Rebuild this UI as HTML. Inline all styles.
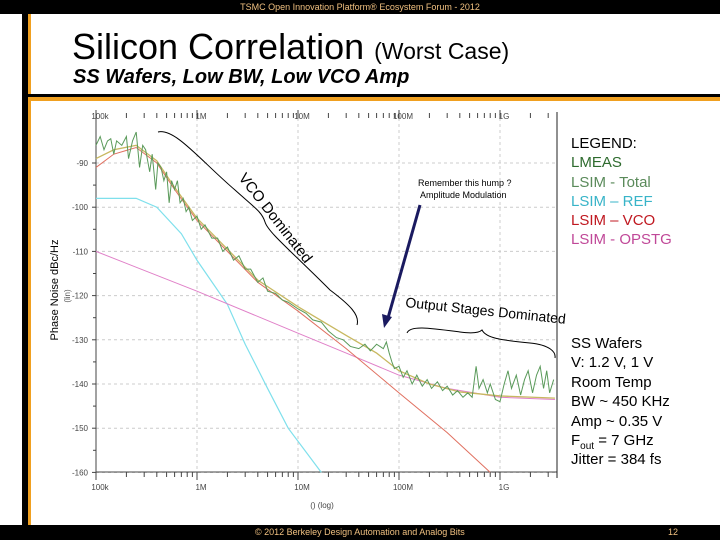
<!DOCTYPE html>
<html><head><meta charset="utf-8"><style>
body{margin:0;width:720px;height:540px;overflow:hidden;background:#fff;font-family:"Liberation Sans",sans-serif;position:relative}
.abs{position:absolute}
</style></head><body>
<div class="abs" style="left:0;top:0;width:720px;height:14px;background:#000;color:#f0c080;font-size:9px;text-align:center;line-height:14px">TSMC Open Innovation Platform® Ecosystem Forum - 2012</div>
<div class="abs" style="left:22px;top:14px;width:6px;height:526px;background:#000"></div>
<div class="abs" style="left:28px;top:14px;width:3px;height:513px;background:#f0a020"></div>
<div class="abs" style="left:28px;top:94px;width:692px;height:3px;background:#000"></div>
<div class="abs" style="left:28px;top:97px;width:692px;height:4px;background:#f0a020"></div>
<div class="abs" style="left:72px;top:26px;font-size:36px;white-space:nowrap">Silicon Correlation <span style="font-size:23px">(Worst Case)</span></div>
<div class="abs" style="left:73px;top:66px;font-size:20px;font-weight:bold;font-style:italic">SS Wafers, Low BW, Low VCO Amp</div>
<div class="abs" style="left:0;top:525px;width:720px;height:15px;background:#000;color:#f0c080;font-size:9px;line-height:15px"><span style="position:absolute;left:255px">© 2012 Berkeley Design Automation and Analog Bits</span><span style="position:absolute;left:668px">12</span></div>

<svg class="abs" style="left:0;top:0" width="720" height="540">
<g id="grid"></g><g id="axes"></g><g id="series"></g>
<g fill="none" stroke="#000" stroke-width="1">
<path d="M158,132 C175,128 200,160 235,190 C255,208 262,212 265,222 C268,232 290,250 330,290 C350,305 360,315 357,325"/>
<path d="M407,333 C410,325 430,328 460,332 C475,334 480,332 482,330 C486,338 500,340 530,343 C550,345 556,352 555,358"/>
<line x1="420" y1="205" x2="388" y2="318" stroke="#1a1a60" stroke-width="3"/>
<polygon points="384,328 382,314 392,317" fill="#1a1a60" stroke="none"/>
</g>
<text transform="translate(238,178) rotate(52)" font-size="15" font-family="Liberation Sans">VCO Dominated</text>
<text transform="translate(405,307) rotate(6)" font-size="14" font-family="Liberation Sans">Output Stages Dominated</text>
<text x="418" y="186" font-size="9" font-family="Liberation Sans">Remember this hump ?</text>
<text x="420" y="198" font-size="9" font-family="Liberation Sans">Amplitude Modulation</text>
<text transform="translate(58,290) rotate(-90)" text-anchor="middle" font-size="11" font-family="Liberation Sans">Phase Noise dBc/Hz</text>
<text transform="translate(70,296) rotate(-90)" text-anchor="middle" font-size="8" fill="#555" font-family="Liberation Sans">(lin)</text>
<text x="322" y="508" text-anchor="middle" font-size="8" fill="#444" font-family="Liberation Sans">() (log)</text>
</svg>

<div class="abs" style="left:571px;top:134px;font-size:15px;line-height:19.3px">
<div>LEGEND:</div>
<div style="color:#2e6b2e">LMEAS</div>
<div style="color:#5a8a5a">LSIM - Total</div>
<div style="color:#38b4c8">LSIM – REF</div>
<div style="color:#c01820">LSIM – VCO</div>
<div style="color:#c04898">LSIM - OPSTG</div>
</div>
<div class="abs" style="left:571px;top:334px;font-size:15px;line-height:19.4px">
<div>SS Wafers</div><div>V: 1.2 V, 1 V</div><div>Room Temp</div><div>BW ~ 450 KHz</div><div>Amp ~ 0.35 V</div><div>F<sub style="font-size:10px;line-height:0">out</sub> = 7 GHz</div><div>Jitter = 384 fs</div>
</div>

<script>
const xTickVals=[1e5,1e6,1e7,1e8,1e9];
const xTickLabels=["100k","1M","10M","100M","1G"];
const yTickVals=[-90,-100,-110,-120,-130,-140,-150,-160];
const vcoF=[1e5,1.5e5,2.5e5,4e5,6e5,1e6,2e6,4e6,1e7,3e7,1e8,3e8,8e8];
const vcoDb=[-91,-88,-86.5,-90,-96,-103,-110,-117,-123.5,-132,-142,-151,-160];
const opF=[1e5,1e6,1e7,3e7,1e8,3e8,1e9,3.5e9];
const opDb=[-110,-119,-128.5,-133,-138,-141,-143,-143.5];
const refF=[1e5,2.5e5,4e5,7e5,1e6,2e6,3e6,5e6,8e6,1.7e7];
const refDb=[-98,-98,-100,-106,-112,-122,-131,-141,-150,-160];
const totF=[1e5,1.5e5,2.5e5,4e5,6e5,1e6,2e6,4e6,1e7,3e7,6e7,1e8,2e8,4e8,1e9,3.5e9];
const totDb=[-89,-87,-86,-89.5,-95.5,-102.5,-109.5,-116.5,-122.5,-129,-133,-137,-140,-141.8,-142.7,-143.2];
const measF=[1e5,1.1e5,1.2e5,1.3e5,1.4e5,1.5e5,1.6e5,1.8e5,2e5,2.1e5,2.3e5,2.5e5,2.7e5,2.9e5,3.1e5,3.4e5,3.6e5,3.9e5,4.1e5,4.4e5,4.7e5,5e5,5.3e5,5.6e5,6e5,6.4e5,6.8e5,7.3e5,7.8e5,8.3e5,9e5,1e6,1.1e6,1.2e6,1.4e6,1.6e6,1.8e6,2e6,2.3e6,2.6e6,3e6,3.4e6,4e6,4.5e6,5e6,6e6,7e6,8e6,1e7,1.2e7,1.4e7,1.7e7,2e7,2.4e7,2.8e7,3.3e7,4e7,4.6e7,5.2e7,6e7,7e7,7.5e7,8e7,8.5e7,9e7,1e8,1.1e8,1.2e8,1.35e8,1.5e8,1.7e8,1.9e8,2.1e8,2.4e8,2.7e8,3e8,3.4e8,3.8e8,4.3e8,4.8e8,5.3e8,5.8e8,6.2e8,6.8e8,7.5e8,8e8,9e8,1e9,1.1e9,1.2e9,1.3e9,1.45e9,1.6e9,1.75e9,1.9e9,2.1e9,2.3e9,2.5e9,2.7e9,2.9e9,3.1e9,3.4e9];
const measDb=[-86,-84,-87,-85,-84.5,-88,-85,-86,-84,-89,-85,-83,-91,-86,-87,-92,-88,-96,-90,-91,-94,-92,-99,-94,-96,-94,-99,-98,-101,-100,-103,-102,-105,-104,-107,-107,-110,-109,-112,-111,-114,-114,-117,-116,-119,-119.5,-121,-121.5,-123,-124,-125.5,-126,-128,-129.5,-130,-131.5,-132,-131,-132.5,-131,-132,-130.5,-133,-135,-136.5,-136,-138.5,-137,-140,-138,-140.5,-139,-141,-139.5,-141.5,-140.5,-142.5,-141.5,-143,-142,-143,-136,-141,-139,-142,-140,-143.5,-144,-140,-137,-141,-138,-142.5,-139,-137,-142,-138,-136,-141,-137,-142,-139];

const X0=96,DEC=101,Y0=163,PER10=44.2;
function xs(f){return X0+DEC*Math.log10(f/1e5);}
function ys(d){return Y0+(-90-d)*PER10/10;}
const NS="http://www.w3.org/2000/svg";
function mk(tag,parent,attrs){const e=document.createElementNS(NS,tag);for(const k in attrs)e.setAttribute(k,attrs[k]);parent.appendChild(e);return e;}
const grid=document.getElementById('grid'),axes=document.getElementById('axes'),ser=document.getElementById('series');
const L=X0,R=557,T=118,B=472;
yTickVals.forEach((v,i)=>{const y=ys(v);
 const g=mk('line',grid,{x1:L,x2:R,y1:y,y2:y,stroke:'#ccc','stroke-dasharray':'3,3'});
 
 
 const t=mk('text',axes,{x:L-8,y:y+3,'text-anchor':'end','font-size':8,fill:'#444','font-family':'Liberation Sans'});
 t.textContent=v;
 
 
 mk('line',axes,{x1:L-4,x2:L,y1:y,y2:y,stroke:'#444'});
 if(i<yTickVals.length-1) mk('line',axes,{x1:L-3,x2:L,y1:y+PER10/2,y2:y+PER10/2,stroke:'#444'});
});
xTickVals.forEach((v,i)=>{const x=xs(v);
 const g=mk('line',grid,{x1:x,x2:x,y1:T,y2:B,stroke:'#ccc','stroke-dasharray':'3,3'});
 
 
 [[490,'x-tick-label'],[119,'x-top-tick-label']].forEach(p=>{
  const t=mk('text',axes,{x:x+4,y:p[0],'text-anchor':'middle','font-size':8,fill:'#444','font-family':'Liberation Sans'});
  t.textContent=xTickLabels[i];
  
  
 });
 for(let m=1;m<=9;m++){const xm=xs(v*m);if(xm>R)break;const h=m==1?8:5;
  mk('line',axes,{x1:xm,x2:xm,y1:B,y2:B+h,stroke:'#444'});
  mk('line',axes,{x1:xm,x2:xm,y1:T-h,y2:T,stroke:'#444'});}
});
mk('line',axes,{x1:L,x2:L,y1:T,y2:B,stroke:'#444'});
mk('line',axes,{x1:L,x2:R,y1:B,y2:B,stroke:'#444'});
mk('line',axes,{x1:R,x2:R,y1:112,y2:478,stroke:'#222'});
function series(F,D,color,name,w){
 const p=mk('polyline',ser,{points:F.map((f,i)=>xs(f)+','+ys(D[i])).join(' '),fill:'none',stroke:color,'stroke-width':w});
 
 
}
series(refF,refDb,'#7fe0ec','series-lsim-ref',1.2);
series(opF,opDb,'#e080c8','series-lsim-opstg',1);
series(vcoF,vcoDb,'#e07060','series-lsim-vco',1);
series(totF,totDb,'#c8b860','series-lsim-total',1.3);
series(measF,measDb,'#5a9a5a','series-lmeas',1);
</script>
</body></html>
